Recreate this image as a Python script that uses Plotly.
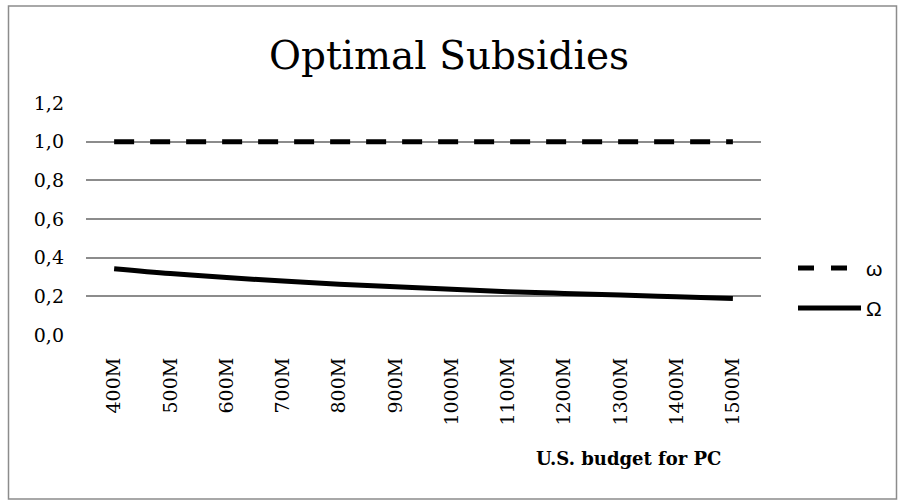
import plotly.graph_objects as go

categories = ["400M", "500M", "600M", "700M", "800M", "900M", "1000M",
              "1100M", "1200M", "1300M", "1400M", "1500M"]
omega_small = [1.0] * 12
omega_big = [0.343, 0.318, 0.297, 0.279, 0.263, 0.249, 0.236,
             0.224, 0.215, 0.207, 0.198, 0.189]
y_ticks = [0.0, 0.2, 0.4, 0.6, 0.8, 1.0, 1.2]

W, H = 898, 500
ML, MR, MT, MB = 86, 898 - 761, 103, 500 - 335
pw, ph = W - ML - MR, H - MT - MB


def px(x):
    return (x - ML) / pw


def py(y):
    return (H - MB - y) / ph


serif = "DejaVu Serif"
fig = go.Figure()
fig.add_trace(go.Scatter(x=categories, y=omega_small, mode="lines", name="ω",
                         line=dict(color="black", width=5, dash="20px,16px")))
fig.add_trace(go.Scatter(x=categories, y=omega_big, mode="lines", name="Ω",
                         line_shape="spline",
                         line=dict(color="black", width=5)))

# chart border
fig.add_shape(type="rect", xref="paper", yref="paper",
              x0=px(8.5), x1=px(896.5), y0=py(499), y1=py(6),
              line=dict(color="#8c8c8c", width=1.5), fillcolor="rgba(0,0,0,0)",
              layer="below")

# legend (drawn by hand to match the original symbol lengths)
fig.add_shape(type="line", xref="paper", yref="paper",
              x0=px(798), x1=px(848), y0=py(268), y1=py(268),
              line=dict(color="black", width=5, dash="16px,17px"))
fig.add_shape(type="line", xref="paper", yref="paper",
              x0=px(798), x1=px(861), y0=py(308), y1=py(308),
              line=dict(color="black", width=5))
for tr, yy in zip(fig.data, [268, 308]):
    fig.add_annotation(text=tr.name, xref="paper", yref="paper",
                       x=px(864), y=py(yy), showarrow=False,
                       xanchor="left", yanchor="middle",
                       font=dict(family="Liberation Sans", size=21, color="black"))

fig.add_annotation(text="<b>U.S. budget for PC</b>", xref="paper", yref="paper",
                   x=px(628), y=py(459),
                   showarrow=False, xanchor="center", yanchor="middle",
                   font=dict(family=serif, size=18, color="black"))

fig.update_layout(
    width=W, height=H,
    margin=dict(l=ML, r=MR, t=MT, b=MB),
    paper_bgcolor="white", plot_bgcolor="white",
    separators=",.",
    showlegend=False,
    title=dict(text="Optimal Subsidies", x=0.5, xanchor="center",
               y=(H - 55) / H, yanchor="middle",
               font=dict(family=serif, size=39, color="black")),
    xaxis=dict(type="category", range=[-0.5, 11.5], tickangle=-90,
               showgrid=False, zeroline=False, showline=False, ticks="",
               ticklabelstandoff=18,
               tickfont=dict(family=serif, size=19, color="black")),
    yaxis=dict(range=[0, 1.2], tickvals=y_ticks, tickformat=".1f",
               showgrid=True, gridcolor="#8c8c8c", gridwidth=1.5,
               zeroline=False, showline=False, ticks="", ticklabelstandoff=21,
               tickfont=dict(family=serif, size=19, color="black")),
)

fig.write_html("out.html", config={"displayModeBar": False},
               post_script="document.body.style.margin='0';")
